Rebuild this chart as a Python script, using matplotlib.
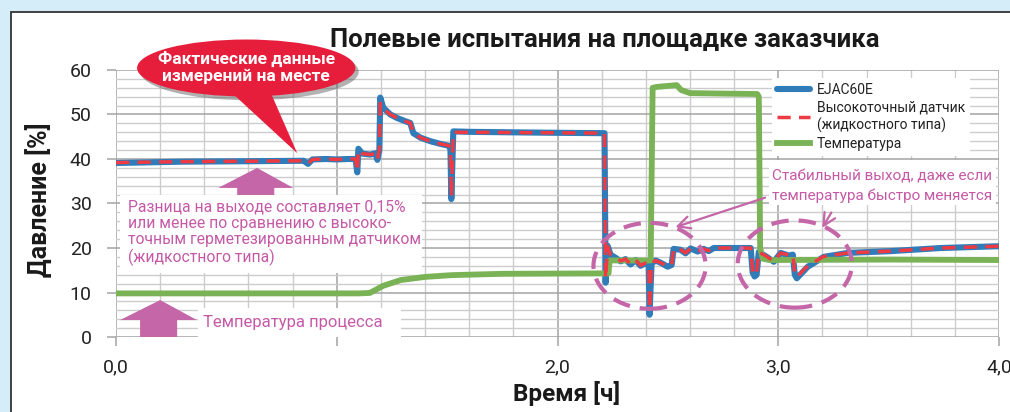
import matplotlib
matplotlib.use('Agg')
import matplotlib.pyplot as plt
from matplotlib.patches import Ellipse, Polygon, Rectangle
from matplotlib.ticker import MultipleLocator, FixedLocator, FixedFormatter

plt.rcParams['font.family'] = ['Roboto', 'DejaVu Sans']

# ---------------- data ----------------
title = 'Полевые испытания на площадке заказчика'
xlabel = 'Время [ч]'
ylabel = 'Давление [%]'
series_names = ['EJAC60E', 'Высокоточный датчик\n(жидкостного типа)', 'Температура']
xtick_values = [0, 1, 2, 3, 4]
xtick_labels = ['0,0', '', '2,0', '3,0', '4,0']
ytick_values = [0, 10, 20, 30, 40, 50, 60]

time_p = [0.00, 0.30, 0.60, 0.85, 0.87, 0.89, 0.95, 1.00, 1.05, 1.085, 1.093, 1.098,
          1.116, 1.152, 1.175, 1.184, 1.193, 1.197, 1.211, 1.243, 1.274, 1.31, 1.333,
          1.347, 1.379, 1.424, 1.469, 1.506, 1.515, 1.519, 1.528, 1.605, 1.968, 2.213,
          2.218, 2.227, 2.240, 2.263, 2.286, 2.308, 2.331, 2.354, 2.376, 2.399, 2.413,
          2.417, 2.426, 2.444, 2.467, 2.499, 2.517, 2.526, 2.558, 2.580, 2.603, 2.635,
          2.662, 2.685, 2.708, 2.875, 2.884, 2.893, 2.902, 2.912, 2.948, 2.980, 3.011,
          3.048, 3.066, 3.075, 3.084, 3.134, 3.206, 3.315, 3.510, 3.737, 4.000]
ejac = [39.1, 39.4, 39.5, 39.6, 38.9, 39.9, 40.0, 39.9, 40.0, 40.0, 37.0, 42.3,
        41.2, 41.0, 41.3, 39.8, 42.0, 53.8, 51.5, 50.0, 49.2, 48.5, 48.1,
        45.8, 44.8, 44.0, 43.4, 43.0, 42.5, 31.0, 46.2, 46.1, 45.9, 45.8,
        12.2, 20.5, 18.5, 17.8, 17.0, 17.5, 16.3, 17.3, 16.0, 16.6, 16.2,
        5.0, 16.5, 17.2, 16.7, 15.8, 16.2, 19.8, 19.6, 18.8, 19.9, 19.2,
        19.8, 19.3, 20.0, 20.0, 14.5, 13.6, 14.0, 19.1, 18.0, 16.9, 18.9,
        18.3, 18.5, 14.0, 13.2, 15.8, 18.0, 18.9, 19.3, 20.0, 20.4]
liquid = [39.2, 39.4, 39.5, 39.6, 39.0, 39.9, 40.0, 39.9, 40.0, 40.0, 37.2, 42.0,
          41.2, 41.0, 41.2, 39.9, 42.0, 52.5, 51.3, 50.0, 49.2, 48.5, 48.1,
          45.8, 44.8, 44.0, 43.4, 43.0, 42.5, 31.5, 46.0, 46.0, 45.9, 45.8,
          13.2, 20.3, 18.5, 17.8, 17.1, 17.5, 16.4, 17.3, 16.1, 16.6, 16.3,
          6.3, 16.5, 17.2, 16.7, 15.9, 16.2, 19.8, 19.6, 18.9, 19.9, 19.3,
          19.8, 19.4, 20.0, 20.0, 14.8, 13.9, 14.2, 19.1, 18.1, 17.0, 18.9,
          18.4, 18.5, 14.3, 13.5, 16.0, 18.1, 18.9, 19.3, 20.0, 20.4]

time_t = [0.00, 1.00, 1.10, 1.15, 1.21, 1.29, 1.40, 1.52, 1.75, 2.231, 2.236, 2.422,
          2.431, 2.45, 2.54, 2.56, 2.60, 2.905, 2.912, 2.918, 2.93, 2.96, 3.50, 4.00]
temperature = [9.8, 9.8, 9.8, 9.9, 11.5, 12.8, 13.5, 13.9, 14.2, 14.3, 17.2, 17.2,
               56.0, 56.2, 56.6, 55.5, 54.8, 54.6, 54.0, 20.0, 17.6, 17.3, 17.4, 17.3]

# ---------------- figure ----------------
W, H = 1010, 412
fig = plt.figure(figsize=(W / 100, H / 100), dpi=100)
fig.patch.set_facecolor('#d5ecf9')
fig.patches.append(Rectangle((11 / W, -0.05), 1.0, (H - 12) / H + 0.05,
                             transform=fig.transFigure, facecolor='white',
                             edgecolor='#333333', lw=1.3, zorder=-5))

ax = fig.add_axes([116 / W, 1 - 337 / H, (999 - 116) / W, (337 - 70) / H])
ax.set_facecolor('none')

blue = '#2f7cb9'
red = '#ee3a43'
green = '#7ab356'
mag = '#c466a8'
magtext = '#c559a6'

ax.plot(time_p, ejac, color=blue, lw=4.4, solid_joinstyle='round',
        solid_capstyle='round', zorder=3, label=series_names[0])
ax.plot(time_p, liquid, color=red, lw=2.5, linestyle=(0, (3.8, 2.4)),
        zorder=3.5, label=series_names[1])
ax.plot(time_t, temperature, color=green, lw=4.2, solid_joinstyle='round',
        zorder=3.2, label=series_names[2])

ax.set_xlim(0, 4)
ax.set_ylim(0, 60)
ax.xaxis.set_major_locator(FixedLocator(xtick_values))
ax.xaxis.set_major_formatter(FixedFormatter(xtick_labels))
ax.xaxis.set_minor_locator(MultipleLocator(0.2))
ax.yaxis.set_major_locator(FixedLocator(ytick_values))
ax.yaxis.set_minor_locator(MultipleLocator(2))
ax.grid(which='major', color='#a3a3a3', lw=1.1, zorder=0)
ax.grid(which='minor', color='#cccccc', lw=1.0, zorder=0)
ax.set_axisbelow(True)
for s in ax.spines.values():
    s.set_visible(False)
ax.tick_params(which='major', length=6.5, width=1.1, color='#a3a3a3',
               labelsize=14, labelcolor='#222222')
ax.tick_params(axis='y', pad=11)
ax.tick_params(axis='x', pad=9)
ax.tick_params(which='minor', length=0)

leg = ax.legend(loc='upper left', bbox_to_anchor=(0.735, 0.997), frameon=True,
                facecolor='white', edgecolor='none', framealpha=1, fontsize=10,
                handlelength=2.4, handletextpad=0.5, labelspacing=0.3,
                borderpad=0.35, fancybox=False)
leg.set_zorder(20)
for t in leg.get_texts():
    t.set_color('#222222')

fig.text(605 / W, 1 - 40 / H, title, ha='center', va='center', fontsize=18.5,
         weight='bold', color='#1a1a1a')
fig.text(40 / W, 1 - 200 / H, ylabel, ha='center', va='center', rotation=90,
         fontsize=18, weight='bold', color='#1a1a1a')
fig.text(567 / W, 1 - 393 / H, xlabel, ha='center', va='center',
         fontsize=17.5, weight='bold', color='#1a1a1a')

# ---------------- annotations ----------------
# block arrow 1
ax.add_patch(Polygon([(0.639, 38.0), (0.803, 33.5), (0.717, 33.5), (0.717, 31.0),
                      (0.549, 31.0), (0.549, 33.5), (0.463, 33.5)],
                     closed=True, facecolor=mag, edgecolor='none', zorder=4))
# box 1
ax.add_patch(Rectangle((0.018, 14.4), 1.37, 17.5, facecolor='white',
                       edgecolor='none', zorder=5))
ax.text(0.054, 30.9, 'Разница на выходе составляет 0,15%\nили менее по сравнению с высоко-\n'
        'точным герметезированным датчиком\n(жидкостного типа)',
        ha='left', va='top', fontsize=11.3, color=magtext, linespacing=1.12, zorder=6)

# block arrow 2
ax.add_patch(Polygon([(0.200, 8.3), (0.367, 3.8), (0.277, 3.8), (0.277, 0.0),
                      (0.109, 0.0), (0.109, 3.8), (0.018, 3.8)],
                     closed=True, facecolor=mag, edgecolor='none', zorder=4))
ax.add_patch(Rectangle((0.372, 0.0), 0.92, 6.5, facecolor='white',
                       edgecolor='none', zorder=5))
ax.text(0.395, 3.3, 'Температура процесса', ha='left', va='center',
        fontsize=12, color=magtext, zorder=6)

# box 3
ax.add_patch(Rectangle((2.957, 29.7), 1.03, 10.1, facecolor='white',
                       edgecolor='none', zorder=5))
ax.text(3.472, 33.9, 'Стабильный выход, даже если\nтемпература быстро меняется',
        ha='center', va='center', fontsize=11, color=magtext, linespacing=1.37, zorder=6)

ax.annotate('', xy=(2.522, 24.5), xytext=(2.952, 31.5),
            arrowprops=dict(arrowstyle='->', color=mag, lw=1.6, mutation_scale=22),
            zorder=7)
ax.annotate('', xy=(3.193, 24.0), xytext=(3.247, 28.5),
            arrowprops=dict(arrowstyle='->', color=mag, lw=1.6, mutation_scale=22),
            zorder=7)

ax.add_patch(Ellipse((2.417, 16.0), 0.508, 19.3, fill=False, edgecolor=mag,
                     lw=3.0, linestyle=(0, (4.2, 2.4)), zorder=7))
ax.add_patch(Ellipse((3.075, 16.4), 0.517, 19.6, fill=False, edgecolor=mag,
                     lw=3.0, linestyle=(0, (4.2, 2.4)), zorder=7))

# speech bubble
bubble = '#e61e3c'
ax.add_patch(Ellipse((0.605, 59.6), 0.989, 12.8, facecolor='#555555', alpha=0.45,
                     edgecolor='none', clip_on=False, zorder=9))
ax.add_patch(Ellipse((0.590, 60.45), 0.989, 12.8, facecolor=bubble,
                     edgecolor='none', clip_on=False, zorder=10))
ax.add_patch(Polygon([(0.50, 56.0), (0.70, 55.0), (0.821, 41.3)], closed=True,
                     facecolor=bubble, edgecolor='none', clip_on=False, zorder=10))
ax.text(0.590, 60.6, 'Фактические данные\nизмерений на месте', ha='center',
        va='center', fontsize=12.5, weight='bold', color='white',
        linespacing=1.2, zorder=11, clip_on=False)

fig.savefig('out.png', dpi=100, facecolor=fig.get_facecolor())
